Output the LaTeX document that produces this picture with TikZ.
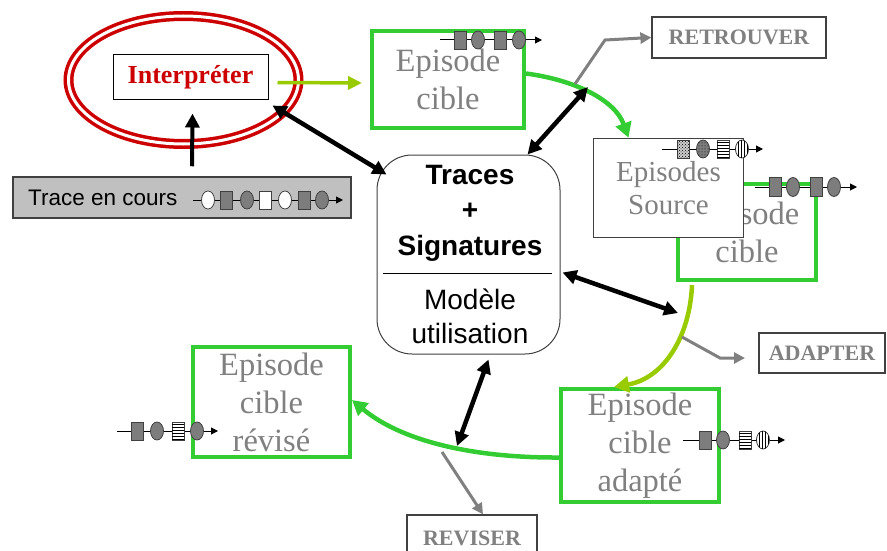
\documentclass[tikz,border=0pt]{standalone}
\usepackage{fontspec}
\setmainfont{Liberation Serif}
\newfontfamily\arialfont{Liberation Sans}
\usepackage{tikz}
\usetikzlibrary{arrows.meta,patterns}

\definecolor{boxgreen}{RGB}{51,204,51}
\definecolor{limegreen}{RGB}{153,204,0}
\definecolor{txtgray}{RGB}{128,128,128}
\definecolor{tokgray}{RGB}{125,125,125}
\definecolor{edgegray}{RGB}{64,64,64}
\definecolor{tracegray}{RGB}{192,192,192}
\definecolor{interpred}{RGB}{204,0,0}

\begin{document}
\begin{tikzpicture}[x=1pt,y=-1pt,
	episode/.style={rectangle,draw=boxgreen,line width=4pt,fill=white,text=txtgray,align=center,inner sep=0pt,font=\fontsize{32.5}{38}\selectfont},
	action/.style={rectangle,draw=edgegray,line width=1.2pt,fill=white,text=txtgray,inner sep=0pt,font=\fontsize{22}{26}\selectfont\bfseries},
	biarrow/.style={{Triangle[length=14pt,width=14pt]}-{Triangle[length=14pt,width=14pt]},line width=4.5pt},
	flow/.style={-{Triangle[length=15pt,width=16pt]},line width=4.5pt},
	outarrow/.style={-{Triangle[length=11pt,width=11pt]},line width=3pt,draw=txtgray},
	chain/.style={-{Triangle[length=7pt,width=7pt]},line width=1pt},
	tokbox/.style={draw=edgegray,line width=0.8pt},
	]
	\useasboundingbox (0,0) rectangle (887,551);

	% interpretation
	\draw[interpred,double=white,double distance=3pt,line width=3.5pt] (183.5,80) ellipse (115 and 64);
	\node[rectangle,draw,line width=1pt,fill=white,minimum width=155pt,minimum height=45pt,text=interpred,font=\fontsize{26}{30}\selectfont\bfseries] (interp) at (190.5,77.5) {Interpréter};
	\node[rectangle,draw=edgegray,line width=1.5pt,fill=tracegray,minimum width=338pt,minimum height=41pt] (trace) at (182,197.5) {};
	\node[anchor=west,inner sep=0pt,font=\arialfont\fontsize{22.5}{26}\selectfont] (tracetxt) at (28,197.5) {Trace en cours};

	% episodes
	\node[episode,minimum width=152pt,minimum height=97pt] (cible) at (448,79.5) {Episode\\cible};
	\node[episode,minimum width=138pt,minimum height=96pt] (cibleB) at (747,232) {Episode\\cible};
	\node[rectangle,draw=edgegray,line width=1.5pt,fill=white,minimum width=150pt,minimum height=99pt,text=txtgray,align=center,font=\fontsize{29}{33}\selectfont] (source) at (668.5,188) {Episodes\\Source};
	\node[episode,minimum width=158pt,minimum height=113pt] (adapte) at (640,445.5) {Episode\\cible\\adapté};
	\node[episode,minimum width=157pt,minimum height=110pt] (revise) at (271.5,402) {Episode\\cible\\révisé};

	% base de traces
	\node[rectangle,rounded corners=35pt,draw=edgegray,line width=1pt,fill=white,minimum width=183pt,minimum height=199pt] (kb) at (468.5,254.5) {};
	\node[align=center,font=\arialfont\bfseries\fontsize{28}{35.5}\selectfont] (kbtop) at (470,213) {Traces\\+\\Signatures};
	\node[align=center,font=\arialfont\fontsize{28}{34}\selectfont] (kbbot) at (470,316) {Modèle\\utilisation};
	\draw[line width=1pt] (383,273) -- (552,273);

	% actions
	\node[action,minimum width=174pt,minimum height=41pt] (retrouver) at (739,37.5) {RETROUVER};
	\node[action,minimum width=126pt,minimum height=40pt] (adapter) at (822,353) {ADAPTER};
	\node[action,minimum width=130pt,minimum height=46pt] (reviser) at (472,538) {REVISER};

	% cycle
	\draw[line width=4pt,-{Triangle[length=14pt,width=14pt]}] ([xshift=10pt,yshift=10pt]trace.north) -- ([xshift=2pt,yshift=-13pt]interp.south);
	\draw[limegreen,line width=3.5pt,-{Triangle[length=14pt,width=13pt]}] ([xshift=9pt,yshift=-5pt]interp.east) -- ([xshift=-8pt,yshift=-3.5pt]cible.west);
	\draw[flow,boxgreen] ([yshift=6pt]cible.east) .. controls (575,80) and (615,100) .. ([xshift=-40pt]source.north);
	\draw[flow,limegreen] ([xshift=-55pt,yshift=-3pt]cibleB.south) .. controls (690,335) and (665,378) .. ([xshift=-26pt]adapte.north);
	\draw[flow,boxgreen] ([yshift=-12pt]adapte.west) .. controls (470,458) and (400,440) .. ([yshift=2pt]revise.east);

	% sorties
	\coordinate (retrfoot) at (575,84);
	\coordinate (adapfoot) at (682,337);
	\coordinate (adaptip) at (745,358);
	\coordinate (revfoot) at (442,452);
	\draw[outarrow] (retrfoot) -- (605,40) -- (retrouver.west);
	\draw[outarrow] (adapfoot) -- (720,358) -- (adaptip);
	\draw[outarrow] (revfoot) -- ([xshift=11pt]reviser.north);

	% liens avec la base
	\coordinate (c1end) at (588,87);
	\coordinate (c2end) at (678,313);
	\coordinate (c3end) at (457,446);
	\draw[biarrow] ([xshift=4pt,yshift=-5pt]interp.south east) -- ([xshift=10pt,yshift=-20pt]kb.north west);
	\draw[biarrow] ([xshift=-33pt]kb.north east) -- (c1end);
	\draw[biarrow] ([xshift=2pt,yshift=-18pt]kb.east) -- (c2end);
	\draw[biarrow] ([xshift=20pt,yshift=-5pt]kb.south) -- (c3end);

	% trace en cours
	\draw[chain] (193,200) -- (343,200);
	\foreach \x/\c in {226/tokgray,265/white,304/tokgray}
		\filldraw[tokbox,fill=\c] (\x-6,191) rectangle (\x+6,209);
	\foreach \x/\c in {208/white,247/tokgray,285/white,322/tokgray}
		\filldraw[tokbox,fill=\c] (\x,200) ellipse (6.5 and 9);

	% episode cible
	\draw[chain] (440,40) -- (542,40);
	\foreach \x in {460,500}
		\filldraw[tokbox,fill=tokgray] (\x-6,31) rectangle (\x+6,49);
	\foreach \x in {478,519}
		\filldraw[tokbox,fill=tokgray] (\x,40) ellipse (6.5 and 9);

	% episodes source
	\draw[chain] (662,149) -- (763,149);
	\filldraw[tokbox,fill=gray!40,postaction={pattern=crosshatch dots}] (677,140) rectangle (689,158);
	\filldraw[tokbox,fill=tokgray,postaction={pattern=dots}] (703,149) ellipse (6.5 and 9);
	\filldraw[tokbox,fill=white,postaction={pattern=horizontal lines}] (717,140) rectangle (729,158);
	\filldraw[tokbox,fill=white,postaction={pattern=vertical lines}] (742,149) ellipse (6.5 and 9);

	% episode cible (2)
	\draw[chain] (755,187) -- (857,187);
	\foreach \x in {775,816}
		\filldraw[tokbox,fill=tokgray] (\x-6,177) rectangle (\x+6,196);
	\foreach \x in {793,834}
		\filldraw[tokbox,fill=tokgray] (\x,187) ellipse (6.5 and 9.5);

	% episode cible adapte
	\draw[chain] (683,440) -- (785,440);
	\filldraw[tokbox,fill=tokgray] (699,431) rectangle (711,449);
	\filldraw[tokbox,fill=tokgray] (723,440) ellipse (6.5 and 9);
	\filldraw[tokbox,fill=white,postaction={pattern=horizontal lines}] (739,431) rectangle (751,449);
	\filldraw[tokbox,fill=white,postaction={pattern=vertical lines}] (763,440) ellipse (6.5 and 9);

	% episode cible revise
	\draw[chain] (117,431) -- (218,431);
	\filldraw[tokbox,fill=tokgray] (131,422) rectangle (143,440);
	\filldraw[tokbox,fill=tokgray] (157,431) ellipse (6.5 and 9);
	\filldraw[tokbox,fill=white,postaction={pattern=horizontal lines}] (172,422) rectangle (184,440);
	\filldraw[tokbox,fill=tokgray] (197,431) ellipse (6.5 and 9);
\end{tikzpicture}
\end{document}
